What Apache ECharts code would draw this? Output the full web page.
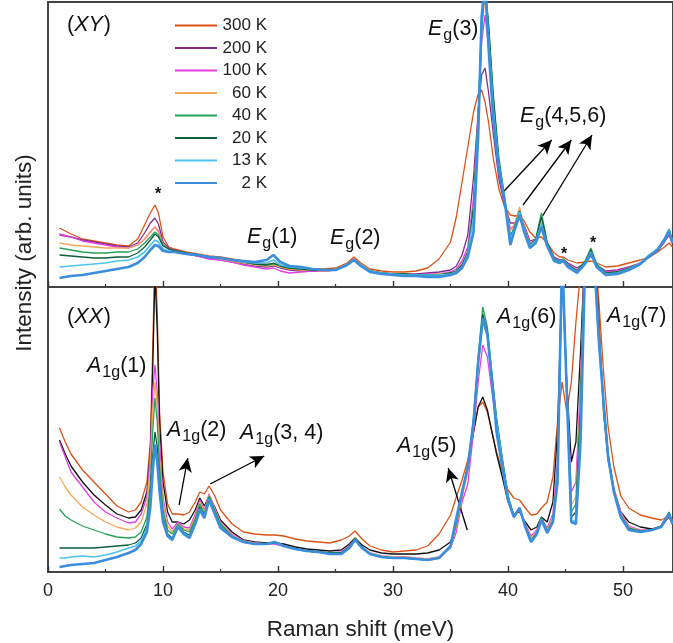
<!DOCTYPE html>
<html><head><meta charset="utf-8">
<script src="https://cdn.jsdelivr.net/npm/echarts@6/dist/echarts.min.js"></script>
<style>html,body{margin:0;padding:0;background:#fff}#c{width:673px;height:643px}</style>
</head><body><div id="c"></div>
<script>
// ---------- DATA ----------
const temps = ['300 K','200 K','100 K','60 K','40 K','20 K','13 K','2 K'];
const xTicks = [0,10,20,30,40,50];

// (XY) panel: shared Raman-shift grid (meV)
const xXY = [1,2,3,4,5,6,7,7.8,8.4,8.9,9.3,9.6,10,10.5,11,12,13,14,15,16,17,18,19,19.6,20.2,21,22,23,24,25,26,26.6,27.2,28,29,30,31,32,33,34,35,35.5,36,36.5,37,37.4,37.7,38,38.3,38.7,39.2,39.7,40.2,40.6,41,41.4,41.9,42.4,42.9,43.4,44,44.5,44.8,45.2,46,46.7,47.2,47.7,48.5,49.5,50.5,51.5,52.3,53,53.6,54,54.3];
const xy300 = [59,53,48,46,44,42,41,48,62,74,82,74,50,40,38,35,33,31,30,28,26,25,23,23,22,20,19,18,18,19,24,30,24,18,16,15,15,16,19,28,45,70,105,140,175,193,197,185,165,130,98,80,72,71,72,66,55,49,50,44,34,30,30,27,24,25,26,24,20,21,24,27,30,35,40,44,40];
const xy200 = [52,50,47,45,43,41,40,44,54,64,69,63,45,39,37,34,31,29,27,25,23,21,20,21,19,17,16,16,16,17,22,28,22,16,14,13,13,13,14,15,17,21,32,52,110,175,212,219,195,155,108,82,64,64,72,62,46,48,60,44,30,27,28,24,19,24,31,22,16,17,20,24,30,36,45,52,43];
const xy100 = [53,50,46,44,42,40,39,42,48,55,60,56,42,38,36,33,31,28,27,25,22,20,18,19,16,14,15,16,16,17,22,27,22,16,14,13,13,12,13,13,15,18,26,40,90,170,245,272,240,172,115,84,58,62,74,60,44,47,62,43,29,26,27,23,17,24,33,22,15,16,20,24,31,37,46,54,44];
const xy60  = [44,42,41,40,39,39,39,42,48,55,60,55,42,38,36,34,32,30,28,26,24,22,21,22,20,18,17,17,16,17,22,27,22,16,14,13,13,12,12,13,14,16,23,36,82,170,255,290,255,185,120,85,56,64,80,60,43,47,65,43,28,25,27,22,16,24,35,22,14,15,19,24,32,38,48,56,45];
const xy40  = [39,37,35,34,34,35,35,38,44,50,55,52,42,38,36,34,32,30,29,27,25,23,22,23,21,19,18,17,17,17,22,27,22,16,14,13,13,12,12,12,14,16,22,35,80,170,260,300,265,195,130,90,50,62,76,58,42,48,74,45,28,26,28,22,16,26,39,23,14,15,19,24,32,38,49,58,46];
const xy20  = [32,31,30,29,29,30,30,34,40,47,53,50,41,38,36,34,32,30,29,27,25,23,22,24,21,19,18,17,17,17,22,27,22,16,14,13,13,12,12,12,14,16,22,35,80,170,262,300,262,192,125,88,50,61,76,58,42,47,70,44,28,25,27,22,16,25,37,22,14,15,19,24,32,38,48,57,45];
const xy13  = [20,21,22,23,24,26,27,30,35,42,47,45,38,36,35,33,32,30,29,27,25,24,24,27,22,20,19,18,17,17,22,27,22,16,14,13,12,12,12,12,13,15,20,33,70,165,265,300,250,180,122,88,48,60,75,57,41,46,63,42,27,25,27,21,15,24,35,21,13,14,18,24,32,38,48,57,45];
const xy2   = [9,11,12,14,16,18,20,24,30,37,42,41,36,35,35,33,32,30,29,27,26,25,27,32,25,21,20,18,17,17,22,27,21,15,13,12,11,11,10,10,12,14,19,30,55,150,270,305,240,170,118,86,42,58,72,55,39,44,60,41,26,24,26,20,14,23,34,20,12,13,17,23,31,37,47,56,44];

// (XX) panel
const xXX = [1,1.5,2,3,4,5,6,7,7.6,8.1,8.6,8.9,9.1,9.3,9.5,9.7,10,10.4,10.8,11.3,11.8,12.3,12.8,13.2,13.6,14,14.5,15,16,17,18,19,19.7,20.5,21.5,22.5,23.5,24.5,25.5,26.2,26.7,27.3,28,29,30,31,32,33,34,35,35.5,36,36.5,37,37.4,37.8,38.2,38.6,39,39.5,40,40.5,41,41.5,42,42.5,42.9,43.4,43.9,44.3,44.7,45.1,45.5,45.9,46.3,46.7,47.1,47.5,47.9,48.3,48.7,49.2,49.8,50.5,51.5,52.5,53.3,54,54.3];
const xx300 = [144,130,118,102,90,78,66,60,62,70,90,130,220,320,260,160,100,68,58,58,57,60,70,80,78,86,76,62,48,40,38,37,37,36,33,31,30,29,32,36,41,33,26,22,20,21,22,26,38,57,75,92,112,140,165,170,160,140,120,100,82,74,72,64,57,58,64,70,95,150,190,160,190,250,300,330,340,330,270,200,145,105,76,64,57,54,52,56,52];
const xx200 = [132,118,106,90,77,67,58,54,55,62,80,120,200,300,240,150,90,60,50,50,48,52,62,74,66,76,65,52,40,32,30,29,29,28,25,23,22,21,22,28,34,27,22,19,18,18,18,19,22,30,45,75,107,140,165,175,162,140,118,95,70,58,60,50,42,45,55,50,70,140,300,190,110,130,220,330,340,330,250,160,112,82,60,50,45,43,46,55,48];
const xx100 = [130,115,100,85,70,60,54,49,50,58,75,120,180,207,180,130,75,50,43,50,45,44,58,72,62,78,64,50,38,31,29,28,28,26,23,21,20,19,20,26,33,25,19,16,15,15,14,13,15,24,40,70,88,140,190,227,215,180,145,105,72,55,62,48,36,42,54,44,58,110,310,190,80,90,190,330,340,320,240,170,118,84,60,46,42,42,45,56,48];
const xx60  = [95,85,77,65,57,50,45,42,44,50,68,105,160,190,165,115,68,46,40,48,43,42,55,70,60,77,63,49,37,31,29,28,29,26,23,21,20,19,19,25,33,25,19,16,15,15,14,13,15,25,45,75,100,148,205,250,235,190,150,110,74,56,64,47,34,40,54,42,55,100,310,190,67,75,180,330,340,320,240,172,118,83,58,45,41,42,45,58,48];
const xx40  = [63,56,52,46,42,38,35,34,35,40,55,90,140,174,150,105,62,42,38,48,42,40,53,68,58,76,62,48,36,30,28,28,29,26,23,21,20,19,19,25,33,25,18,15,14,14,13,12,14,25,48,80,105,155,215,265,245,198,155,115,76,56,64,46,32,39,55,41,52,95,315,185,60,68,170,330,340,315,235,172,118,82,57,44,41,42,46,60,48];
const xx20  = [24,24,24,24,24,25,26,27,29,34,48,80,115,140,125,90,55,38,34,46,40,37,50,65,56,74,60,46,35,30,28,28,30,26,23,21,20,19,19,25,33,25,18,15,14,14,13,12,14,25,50,80,105,152,212,258,240,195,152,112,76,56,64,46,31,39,54,40,51,92,320,182,55,60,160,330,340,312,232,170,116,81,56,43,40,42,46,59,48];
const xx13  = [14,14,15,16,15,17,20,24,26,31,44,72,105,128,112,82,52,36,33,46,39,35,49,63,55,73,59,45,35,30,28,28,30,26,23,21,20,18,18,24,32,24,18,15,14,14,13,12,14,25,52,80,105,150,210,250,238,192,150,110,75,56,63,45,30,38,53,39,50,90,320,182,50,52,140,320,340,310,230,170,115,80,55,42,40,42,45,58,48];
const xx2   = [5,6,7,8,9,12,15,19,22,28,40,65,100,127,110,80,50,36,32,45,38,34,48,62,54,72,58,44,35,30,28,28,30,26,23,21,20,18,18,24,32,24,18,15,14,14,13,12,14,26,54,80,105,150,210,254,238,192,140,105,72,55,64,45,30,38,52,39,50,90,320,180,50,48,130,310,340,310,230,170,115,80,55,42,40,42,45,58,48];

const seriesXY = [xy300,xy200,xy100,xy60,xy40,xy20,xy13,xy2];
const seriesXX = [xx300,xx200,xx100,xx60,xx40,xx20,xx13,xx2];

// ---------- STYLE ----------
const colXY = ['#d95319','#7e2f8e','#e23fe3','#f4a85a','#26a158','#0d5e3b','#4dc3ee','#3a8edc'];
const colXX = ['#d95319','#111111','#e23fe3','#f4a85a','#26a158','#0d5e3b','#4dc3ee','#3a8edc'];
const widths = [1.3,1.3,1.3,1.3,1.3,1.3,1.7,2.6];
const FONT = '"Liberation Sans", Arial, sans-serif';

function zip(xs, ys){ return xs.map((x,i)=>[x, ys[i]]); }

const arrowStyle = {color:'#000', width:1.3, type:'solid'};
const arrowsXY = [
  [{coord:[39.5,94]},{coord:[43.8,147]}],
  [{coord:[41.3,82]},{coord:[45.5,147]}],
  [{coord:[43.0,71]},{coord:[47.3,152]}]
];
const arrowsXX = [
  [{coord:[11.4,67]},{coord:[12.15,114]}],
  [{coord:[14.1,88]},{coord:[18.8,116]}],
  [{coord:[36.45,42]},{coord:[34.8,104]}]
];

const series = [];
temps.forEach((t,i)=>{
  const s = {name:t, type:'line', xAxisIndex:0, yAxisIndex:0, data:zip(xXY, seriesXY[i]),
    symbol:'none', showSymbol:false, color:colXY[i], lineStyle:{color:colXY[i], width:widths[i]}, z:2+i, silent:true};
  if(i===7){ s.markLine = {silent:true, symbol:['none','arrow'], symbolSize:[10,14], lineStyle:arrowStyle, label:{show:false}, data:arrowsXY, animation:false}; }
  series.push(s);
});
temps.forEach((t,i)=>{
  const s = {name:t, type:'line', xAxisIndex:1, yAxisIndex:1, data:zip(xXX, seriesXX[i]),
    symbol:'none', showSymbol:false, color:colXX[i], lineStyle:{color:colXX[i], width:widths[i]}, z:2+i, silent:true};
  if(i===7){ s.markLine = {silent:true, symbol:['none','arrow'], symbolSize:[10,14], lineStyle:arrowStyle, label:{show:false}, data:arrowsXX, animation:false}; }
  series.push(s);
});

const XMAX = 626/11.52;
function xAxisCfg(idx, labels){
  return {type:'value', gridIndex:idx, min:0, max:XMAX, interval:10, position:'bottom',
    axisLine:{show:false}, splitLine:{show:false},
    axisTick:{show:true, inside:true, length:6, lineStyle:{color:'#333', width:1.4}},
    minorTick:{show:true, splitNumber:2, length:3, lineStyle:{color:'#333', width:1.2}},
    axisLabel:{show:labels, showMaxLabel:false, fontSize:18, color:'#222', fontFamily:FONT, margin:10},
    name: labels ? 'Raman shift (meV)' : '', nameLocation:'middle', nameGap:46,
    nameTextStyle:{fontSize:22.5, color:'#222', fontFamily:FONT}};
}
function yAxisCfg(idx){
  return {type:'value', gridIndex:idx, min:0, max:285, show:false};
}

// ---------- ANNOTATIONS (real text pieces: italic symbol, subscript, rest) ----------
const MAIN = 21.5, SUB = 16;
const mctx = document.createElement('canvas').getContext('2d');
function fontOf(kind){
  if(kind==='i') return 'italic '+MAIN+'px '+FONT;
  if(kind==='s') return SUB+'px '+FONT;
  return MAIN+'px '+FONT;
}
function tw(kind, t){ mctx.font = fontOf(kind); return mctx.measureText(t).width; }
function lab(x, cy, pieces){
  const out = []; let cx = x;
  pieces.forEach(([kind, t])=>{
    out.push({type:'text', x:cx, y: kind==='s' ? cy+7 : cy, z:50, silent:true,
      style:{text:t, font:fontOf(kind), fill:'#111', align:'left', verticalAlign:'middle'}});
    cx += tw(kind, t) + (kind==='i' ? 1 : 0);
  });
  return out;
}
function star(x, y){
  return {type:'text', x:x, y:y, z:50, silent:true,
    style:{text:'*', align:'center', verticalAlign:'middle', fill:'#111', font:'bold 16px '+FONT}};
}

const graphics = [].concat(
  lab(67, 25, [['n','('],['i','XY'],['n',')']]),
  lab(67, 317, [['n','('],['i','XX'],['n',')']]),
  lab(247, 237, [['i','E'],['s','g'],['n','(1)']]),
  lab(330, 238, [['i','E'],['s','g'],['n','(2)']]),
  lab(428, 29, [['i','E'],['s','g'],['n','(3)']]),
  lab(520, 116, [['i','E'],['s','g'],['n','(4,5,6)']]),
  lab(87, 366, [['i','A'],['s','1g'],['n','(1)']]),
  lab(167, 430, [['i','A'],['s','1g'],['n','(2)']]),
  lab(240, 433, [['i','A'],['s','1g'],['n','(3, 4)']]),
  lab(397, 446, [['i','A'],['s','1g'],['n','(5)']]),
  lab(497, 317, [['i','A'],['s','1g'],['n','(6)']]),
  lab(607, 316, [['i','A'],['s','1g'],['n','(7)']]),
  [star(158, 195), star(564, 255), star(593, 244),
   {type:'text', x:25, y:253, rotation:Math.PI/2, z:50, silent:true,
    style:{text:'Intensity (arb. units)', align:'center', verticalAlign:'middle', fill:'#222', font:'22.5px '+FONT}}]
);

const chart = echarts.init(document.getElementById('c'), null, {renderer:'canvas'});
chart.setOption({
  animation:false,
  backgroundColor:'#fff',
  grid:[
    {left:48, top:2, width:626, height:285, show:true, borderColor:'#444', borderWidth:2, backgroundColor:'transparent'},
    {left:48, top:287, width:626, height:285, show:true, borderColor:'#444', borderWidth:2, backgroundColor:'transparent'}
  ],
  xAxis:[xAxisCfg(0,false), xAxisCfg(1,true)],
  yAxis:[yAxisCfg(0), yAxisCfg(1)],
  legend:{show:true, orient:'vertical', left:175, top:16.9, padding:0, itemWidth:42, itemHeight:2, itemGap:5.5,
    icon:'rect', data:temps, selectedMode:false,
    formatter: n => '{r|'+n+'}',
    textStyle:{fontSize:17, lineHeight:14, color:'#222', fontFamily:FONT,
      rich:{r:{width:45, align:'right', fontSize:17, lineHeight:14, fontFamily:FONT, color:'#222'}}}},
  series:series,
  graphic:graphics
});
</script></body></html>
